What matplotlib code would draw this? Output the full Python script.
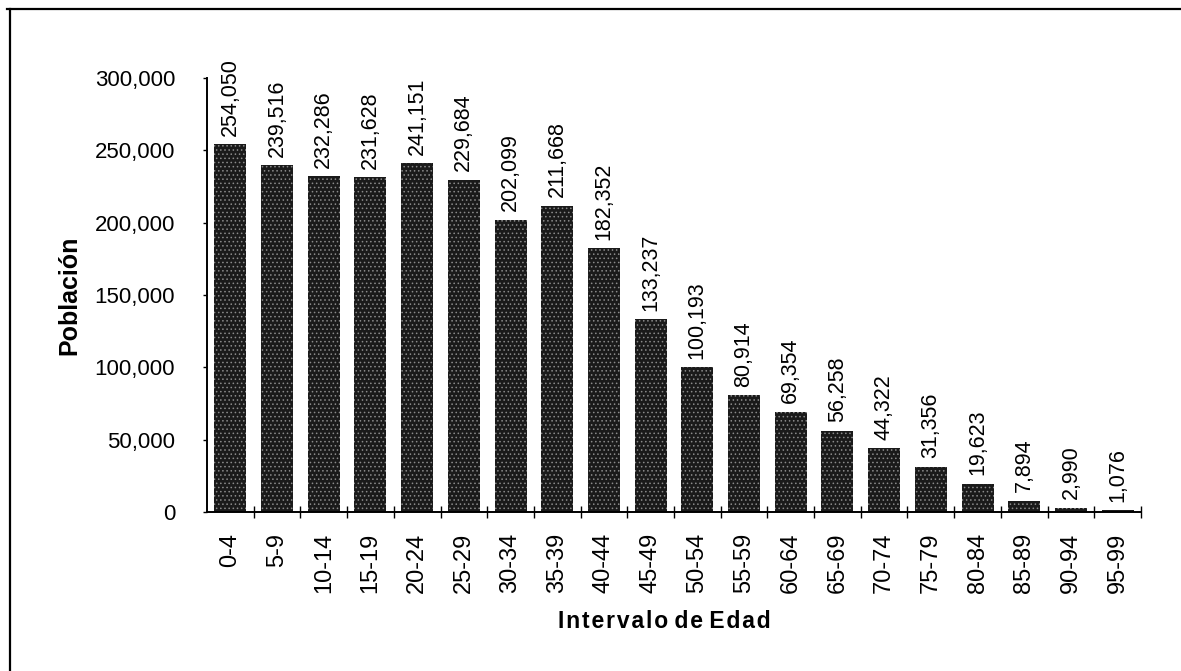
import numpy as np
import matplotlib.pyplot as plt
from matplotlib.lines import Line2D
from matplotlib.ticker import FuncFormatter, FixedLocator

# Poblacion por intervalo de edad
grupos = ['0-4', '5-9', '10-14', '15-19', '20-24', '25-29', '30-34', '35-39',
          '40-44', '45-49', '50-54', '55-59', '60-64', '65-69', '70-74',
          '75-79', '80-84', '85-89', '90-94', '95-99']
poblacion = [254050, 239516, 232286, 231628, 241151, 229684, 202099, 211668,
             182352, 133237, 100193, 80914, 69354, 56258, 44322, 31356,
             19623, 7894, 2990, 1076]
yticks = [0, 50000, 100000, 150000, 200000, 250000, 300000]

NARROW = ['Liberation Sans Narrow', 'Liberation Sans', 'DejaVu Sans']
WIDE = ['Liberation Sans', 'DejaVu Sans']

plt.rcParams['hatch.color'] = '#8a8a8a'
plt.rcParams['hatch.linewidth'] = 0.6

fig = plt.figure(figsize=(11.81, 6.71), dpi=100)
ax = fig.add_axes([0.1753, 0.2370, 0.7908, 0.6468])

x = np.arange(len(grupos))
ax.bar(x, poblacion, width=0.685, color='#1a1a1a', hatch='....', linewidth=0)

for xi, v in zip(x, poblacion):
    ax.annotate('{:,}'.format(v), (xi, v), xytext=(0, 6), textcoords='offset points',
                rotation=90, ha='center', va='bottom', fontsize=15.5, family=NARROW)

ax.set_xlim(-0.5, len(grupos) - 0.5)
ax.set_ylim(0, 300000)

for s in ['top', 'right']:
    ax.spines[s].set_visible(False)
ax.spines['left'].set_linewidth(1.4)
ax.spines['bottom'].set_linewidth(1.4)

ax.set_yticks(yticks)
ax.yaxis.set_major_formatter(FuncFormatter(lambda v, p: '{:,.0f}'.format(v)))
ax.tick_params(axis='y', length=3, width=1, pad=20, labelsize=16)
for lab in ax.get_yticklabels():
    lab.set_family(WIDE)

ax.set_xticks(x)
ax.set_xticklabels(grupos, rotation=90, fontsize=17, family=NARROW)
ax.tick_params(axis='x', which='major', length=0, pad=15)
ax.xaxis.set_minor_locator(FixedLocator(np.arange(0.5, len(grupos), 1.0)))
ax.tick_params(axis='x', which='minor', direction='inout', length=8, width=1)

ax.set_ylabel('Población', fontsize=18, fontweight='bold', family=WIDE)
ax.yaxis.set_label_coords(-0.135, 0.5)
ax.set_xlabel('I n t e r v a l o   d e   E d a d'.replace(' ', '\u200a').replace('\u200a\u200a\u200a', ' '),
              fontsize=16.5, fontweight='bold', family=WIDE)
ax.xaxis.set_label_coords(0.49, -0.225)

# marco de la figura (solo borde superior e izquierdo visibles)
fig.add_artist(Line2D([0.006, 1.0], [0.987, 0.987], color='black', lw=1.6))
fig.add_artist(Line2D([0.0085, 0.0085], [0.0, 0.987], color='black', lw=1.6))

fig.savefig('out.png', dpi=100)
